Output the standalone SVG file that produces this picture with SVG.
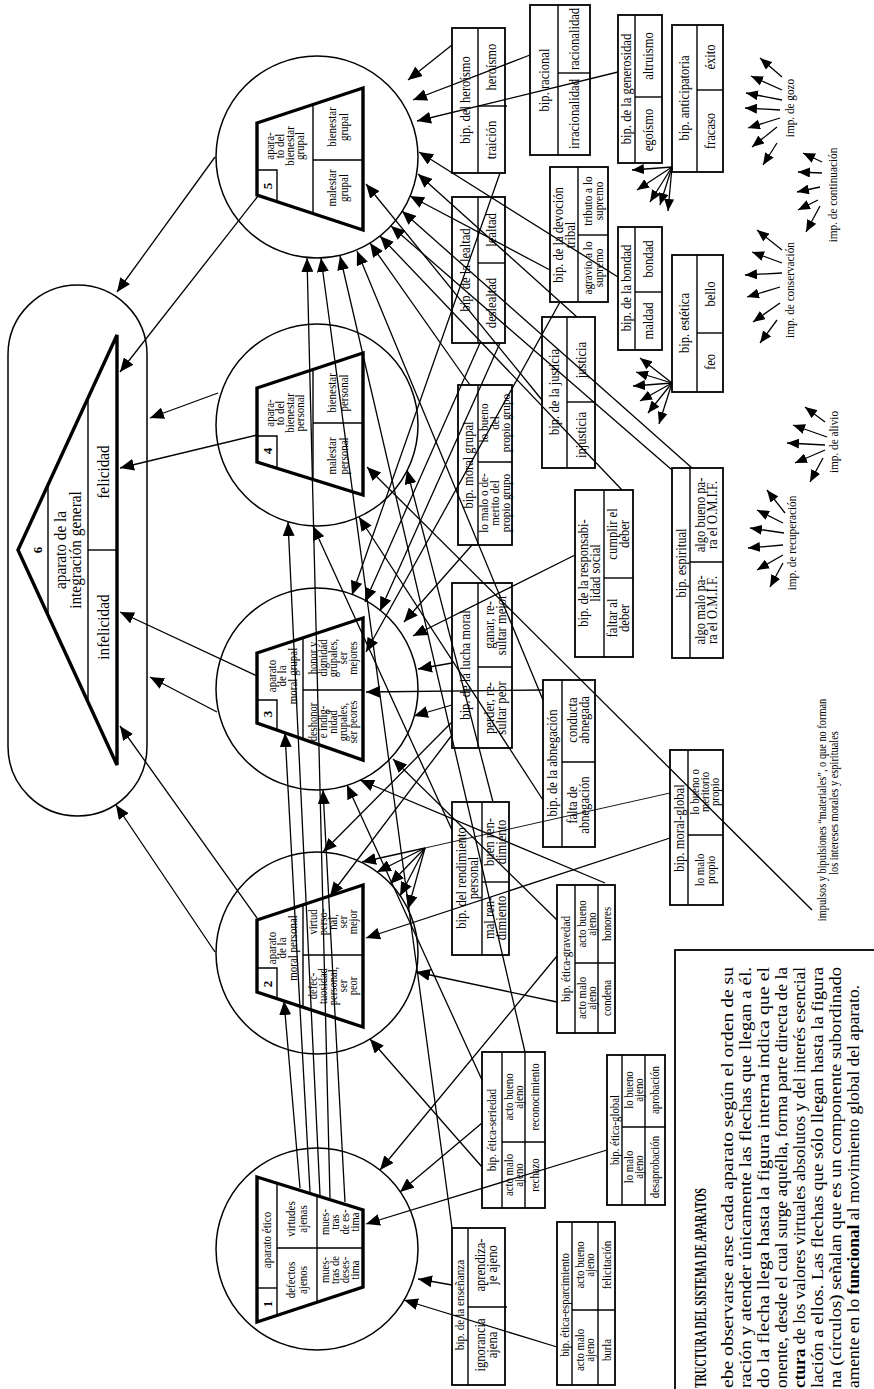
<svg xmlns="http://www.w3.org/2000/svg" width="874" height="1389" viewBox="0 0 874 1389">
<defs>
<marker id="a" viewBox="0 0 14 12" refX="14" refY="6" markerWidth="14" markerHeight="12" markerUnits="userSpaceOnUse" orient="auto"><path d="M0,0L14,6L0,12z" fill="#000"/></marker>
<marker id="f" viewBox="0 0 12 10" refX="12" refY="5" markerWidth="12" markerHeight="10" markerUnits="userSpaceOnUse" orient="auto"><path d="M0,0L12,5L0,10z" fill="#000"/></marker>
<style>
text{font-family:"Liberation Serif","Times New Roman",serif;font-size:14px;text-anchor:middle;dominant-baseline:central;fill:#000}
.s{font-size:12px}
.m{font-size:12.5px}
.big{font-size:17px}
.num{font-size:13px;font-weight:bold}
.body{font-size:17px;text-anchor:start}
.hd{font-size:17px;font-weight:bold;text-anchor:start}
.note{font-size:11.5px}
.c{fill:none;stroke:#000;stroke-width:1.5}
.tz{fill:none;stroke:#000;stroke-width:3.4;stroke-linejoin:miter}
.ln{stroke:#000;stroke-width:1.4;fill:none}
.bx{fill:none;stroke:#000;stroke-width:1.8}
.cn line{stroke:#000;stroke-width:1.3;marker-end:url(#a)}
.fan line{stroke:#000;stroke-width:1.3;marker-end:url(#f)}
.thin{stroke:#000;stroke-width:0.9}
</style>
</defs>
<rect width="874" height="1389" fill="#fff"/>

<g id="app6">
<rect x="8" y="285" width="139" height="531" rx="69.5" class="c"/>
<polygon points="18,550 117,335 117,765" class="tz"/>
<line x1="48" y1="486" x2="48" y2="614" class="ln"/>
<line x1="88" y1="398" x2="88" y2="702" class="ln"/>
<line x1="88" y1="550" x2="117" y2="550" class="ln"/>
<text class="num" transform="translate(37,550) rotate(-90)">6</text>
<text class="big" transform="translate(67,550) rotate(-90) scale(0.9,1)"><tspan x="0" y="-7.5">aparato de la</tspan><tspan x="0" y="7.5">integración general</tspan></text>
<text class="big" transform="translate(103,472) rotate(-90) scale(0.9,1)">felicidad</text>
<text class="big" transform="translate(103,627) rotate(-90) scale(0.9,1)">infelicidad</text>
</g>

<g id="app5">
<circle cx="317" cy="157" r="101" class="c"/>
<polygon points="257,123 363,88 363,230 257,195" class="tz"/>
<polyline points="257,170 277,170 277,202" class="ln"/>
<line x1="313" y1="105" x2="313" y2="213" class="ln"/>
<line x1="313" y1="160" x2="363" y2="160" class="ln"/>
<text class="num" transform="translate(267,186) rotate(-90)">5</text>
<text class="m" transform="translate(285,146) rotate(-90) scale(0.88,1)"><tspan x="0" y="-15">apara-</tspan><tspan x="0" y="-5">to del</tspan><tspan x="0" y="5">bienestar</tspan><tspan x="0" y="15">grupal</tspan></text>
<text class="m" transform="translate(338,127) rotate(-90) scale(0.88,1)"><tspan x="0" y="-6">bienestar</tspan><tspan x="0" y="6">grupal</tspan></text>
<text class="m" transform="translate(338,188) rotate(-90) scale(0.88,1)"><tspan x="0" y="-6">malestar</tspan><tspan x="0" y="6">grupal</tspan></text>
</g>

<g id="app4">
<circle cx="317" cy="425" r="101" class="c"/>
<polygon points="257,388 363,353 363,495 257,462" class="tz"/>
<polyline points="257,436 277,436 277,468" class="ln"/>
<line x1="313" y1="370" x2="313" y2="480" class="ln"/>
<line x1="313" y1="423" x2="363" y2="423" class="ln"/>
<text class="num" transform="translate(267,451) rotate(-90)">4</text>
<text class="m" transform="translate(285,413) rotate(-90) scale(0.88,1)"><tspan x="0" y="-15">apara-</tspan><tspan x="0" y="-5">to del</tspan><tspan x="0" y="5">bienestar</tspan><tspan x="0" y="15">personal</tspan></text>
<text class="m" transform="translate(338,393) rotate(-90) scale(0.88,1)"><tspan x="0" y="-6">bienestar</tspan><tspan x="0" y="6">personal</tspan></text>
<text class="m" transform="translate(338,456) rotate(-90) scale(0.88,1)"><tspan x="0" y="-6">malestar</tspan><tspan x="0" y="6">personal</tspan></text>
</g>

<g id="app3">
<circle cx="317" cy="689" r="101" class="c"/>
<polygon points="257,653 363,618 363,760 257,723" class="tz"/>
<polyline points="257,700 277,700 277,730" class="ln"/>
<line x1="303" y1="638" x2="303" y2="739" class="ln"/>
<line x1="303" y1="690" x2="363" y2="690" class="ln"/>
<text class="num" transform="translate(267,714) rotate(-90)">3</text>
<text class="m" transform="translate(282,676) rotate(-90) scale(0.88,1)"><tspan x="0" y="-10.5">aparato</tspan><tspan x="0" y="0">de la</tspan><tspan x="0" y="10.5">moral grupal</tspan></text>
<text class="s" transform="translate(333,658) rotate(-90) scale(0.88,1)"><tspan x="0" y="-20">honor y</tspan><tspan x="0" y="-10">dignidad</tspan><tspan x="0" y="0">grupales,</tspan><tspan x="0" y="10">ser</tspan><tspan x="0" y="20">mejores</tspan></text>
<text class="s" transform="translate(333,722) rotate(-90) scale(0.88,1)"><tspan x="0" y="-20">deshonor</tspan><tspan x="0" y="-10">e indig-</tspan><tspan x="0" y="0">nidad</tspan><tspan x="0" y="10">grupales,</tspan><tspan x="0" y="20">ser peores</tspan></text>
</g>

<g id="app2">
<circle cx="317" cy="953" r="101" class="c"/>
<polygon points="257,920 363,885 363,1027 257,992" class="tz"/>
<polyline points="257,968 277,968 277,999" class="ln"/>
<line x1="303" y1="905" x2="303" y2="1007" class="ln"/>
<line x1="303" y1="955" x2="363" y2="955" class="ln"/>
<text class="num" transform="translate(267,984) rotate(-90)">2</text>
<text class="m" transform="translate(282,948) rotate(-90) scale(0.88,1)"><tspan x="0" y="-10.5">aparato</tspan><tspan x="0" y="0">de la</tspan><tspan x="0" y="10.5">moral personal</tspan></text>
<text class="s" transform="translate(333,922) rotate(-90) scale(0.88,1)"><tspan x="0" y="-20">virtud</tspan><tspan x="0" y="-10">perso-</tspan><tspan x="0" y="0">nal,</tspan><tspan x="0" y="10">ser</tspan><tspan x="0" y="20">mejor</tspan></text>
<text class="s" transform="translate(333,986) rotate(-90) scale(0.88,1)"><tspan x="0" y="-20">defec-</tspan><tspan x="0" y="-10">tuosidad</tspan><tspan x="0" y="0">personal,</tspan><tspan x="0" y="10">ser</tspan><tspan x="0" y="20">peor</tspan></text>
</g>

<g id="app1">
<circle cx="317" cy="1249" r="101" class="c"/>
<polygon points="257,1177 363,1210 363,1287 257,1322" class="tz"/>
<line x1="277" y1="1183" x2="277" y2="1315" class="ln"/>
<line x1="257" y1="1288" x2="277" y2="1288" class="ln"/>
<line x1="317" y1="1196" x2="317" y2="1302" class="ln"/>
<line x1="277" y1="1248" x2="363" y2="1248" class="ln"/>
<text class="m" transform="translate(267,1240) rotate(-90) scale(0.88,1)">aparato ético</text>
<text class="num" transform="translate(267,1304) rotate(-90)">1</text>
<text class="m" transform="translate(297,1219) rotate(-90) scale(0.88,1)"><tspan x="0" y="-6">virtudes</tspan><tspan x="0" y="6">ajenas</tspan></text>
<text class="m" transform="translate(297,1280) rotate(-90) scale(0.88,1)"><tspan x="0" y="-6">defectos</tspan><tspan x="0" y="6">ajenos</tspan></text>
<text class="s" transform="translate(340,1222) rotate(-90) scale(0.88,1)"><tspan x="0" y="-15">mues-</tspan><tspan x="0" y="-5">tras</tspan><tspan x="0" y="5">de es-</tspan><tspan x="0" y="15">tima</tspan></text>
<text class="s" transform="translate(340,1270) rotate(-90) scale(0.88,1)"><tspan x="0" y="-15">mues-</tspan><tspan x="0" y="-5">tras de</tspan><tspan x="0" y="5">deses-</tspan><tspan x="0" y="15">tima</tspan></text>
</g>

<g id="bip-racional">
<rect x="530" y="5" width="60" height="150" class="bx"/>
<line x1="558" y1="5" x2="558" y2="155" class="ln"/><line x1="558" y1="73" x2="590" y2="73" class="ln"/>
<text transform="translate(544,80) rotate(-90) scale(0.9,1)">bip. racional</text>
<text transform="translate(574,39) rotate(-90) scale(0.9,1)">racionalidad</text>
<text transform="translate(574,114) rotate(-90) scale(0.9,1)">irracionalidad</text>
</g>
<g id="bip-heroismo">
<rect x="452" y="28" width="53" height="145" class="bx"/>
<line x1="478" y1="28" x2="478" y2="173" class="ln"/><line x1="478" y1="106" x2="507" y2="106" class="ln"/>
<text transform="translate(465,100) rotate(-90) scale(0.9,1)">bip. del heroísmo</text>
<text transform="translate(491,67) rotate(-90) scale(0.9,1)">heroísmo</text>
<text transform="translate(491,140) rotate(-90) scale(0.9,1)">traición</text>
</g>
<g id="bip-generosidad">
<rect x="618" y="15" width="44" height="148" class="bx"/>
<line x1="635" y1="15" x2="635" y2="163" class="ln"/><line x1="635" y1="97" x2="662" y2="97" class="ln"/>
<text transform="translate(626,89) rotate(-90) scale(0.9,1)">bip. de la generosidad</text>
<text transform="translate(648,56) rotate(-90) scale(0.9,1)">altruismo</text>
<text transform="translate(648,130) rotate(-90) scale(0.9,1)">egoísmo</text>
</g>
<g id="bip-anticipatoria">
<rect x="672" y="25" width="51" height="147" class="bx"/>
<line x1="697" y1="25" x2="697" y2="172" class="ln"/><line x1="697" y1="90" x2="723" y2="90" class="ln"/>
<text transform="translate(684,98) rotate(-90) scale(0.9,1)">bip. anticipatoria</text>
<text transform="translate(710,57) rotate(-90) scale(0.9,1)">éxito</text>
<text transform="translate(710,131) rotate(-90) scale(0.9,1)">fracaso</text>
</g>
<g id="bip-lealtad">
<rect x="452" y="197" width="53" height="146" class="bx"/>
<line x1="478" y1="197" x2="478" y2="343" class="ln"/><line x1="478" y1="263" x2="505" y2="263" class="ln"/>
<text transform="translate(465,270) rotate(-90) scale(0.9,1)">bip. de la lealtad</text>
<text transform="translate(491,230) rotate(-90) scale(0.9,1)">lealtad</text>
<text transform="translate(491,303) rotate(-90) scale(0.9,1)">deslealtad</text>
</g>
<g id="bip-devocion">
<rect x="550" y="167" width="58" height="135" class="bx"/>
<line x1="578" y1="167" x2="578" y2="302" class="ln"/><line x1="578" y1="235" x2="608" y2="235" class="ln"/>
<text transform="translate(564,235) rotate(-90) scale(0.9,1)"><tspan x="0" y="-6">bip. de la devoción</tspan><tspan x="0" y="6">tribal</tspan></text>
<text class="m" transform="translate(593,201) rotate(-90) scale(0.9,1)"><tspan x="0" y="-5.5">tributo a lo</tspan><tspan x="0" y="5.5">supremo</tspan></text>
<text class="m" transform="translate(593,268) rotate(-90) scale(0.9,1)"><tspan x="0" y="-5.5">agravio a lo</tspan><tspan x="0" y="5.5">supremo</tspan></text>
</g>
<g id="bip-bondad">
<rect x="618" y="227" width="44" height="123" class="bx"/>
<line x1="635" y1="227" x2="635" y2="350" class="ln"/><line x1="635" y1="292" x2="662" y2="292" class="ln"/>
<text transform="translate(626,288) rotate(-90) scale(0.9,1)">bip. de la bondad</text>
<text transform="translate(648,259) rotate(-90) scale(0.9,1)">bondad</text>
<text transform="translate(648,321) rotate(-90) scale(0.9,1)">maldad</text>
</g>
<g id="bip-estetica">
<rect x="672" y="255" width="51" height="137" class="bx"/>
<line x1="697" y1="255" x2="697" y2="392" class="ln"/><line x1="697" y1="333" x2="723" y2="333" class="ln"/>
<text transform="translate(684,323) rotate(-90) scale(0.9,1)">bip. estética</text>
<text transform="translate(710,294) rotate(-90) scale(0.9,1)">bello</text>
<text transform="translate(710,362) rotate(-90) scale(0.9,1)">feo</text>
</g>
<g id="bip-justicia">
<rect x="542" y="317" width="53" height="151" class="bx"/>
<line x1="567" y1="317" x2="567" y2="468" class="ln"/><line x1="567" y1="402" x2="595" y2="402" class="ln"/>
<text transform="translate(554,392) rotate(-90) scale(0.9,1)">bip. de la justicia</text>
<text transform="translate(581,360) rotate(-90) scale(0.9,1)">justicia</text>
<text transform="translate(581,435) rotate(-90) scale(0.9,1)">injusticia</text>
</g>
<g id="bip-moralgrupal">
<rect x="458" y="385" width="54" height="160" class="bx"/>
<line x1="478" y1="385" x2="478" y2="545" class="ln"/><line x1="478" y1="462" x2="512" y2="462" class="ln"/>
<text transform="translate(468,465) rotate(-90) scale(0.9,1)">bip. moral grupal</text>
<text class="m" transform="translate(495,423) rotate(-90) scale(0.9,1)"><tspan x="0" y="-11">lo bueno</tspan><tspan x="0" y="0">del</tspan><tspan x="0" y="11">propio grupo</tspan></text>
<text class="m" transform="translate(495,503) rotate(-90) scale(0.9,1)"><tspan x="0" y="-11">lo malo o de-</tspan><tspan x="0" y="0">merito del</tspan><tspan x="0" y="11">propio grupo</tspan></text>
</g>
<g id="bip-responsabilidad">
<rect x="575" y="490" width="58" height="167" class="bx"/>
<line x1="604" y1="490" x2="604" y2="657" class="ln"/><line x1="604" y1="578" x2="633" y2="578" class="ln"/>
<text transform="translate(589,573) rotate(-90) scale(0.9,1)"><tspan x="0" y="-6">bip. de la responsabi-</tspan><tspan x="0" y="6">lidad social</tspan></text>
<text transform="translate(618,534) rotate(-90) scale(0.9,1)"><tspan x="0" y="-6">cumplir el</tspan><tspan x="0" y="6">deber</tspan></text>
<text transform="translate(618,618) rotate(-90) scale(0.9,1)"><tspan x="0" y="-6">faltar al</tspan><tspan x="0" y="6">deber</tspan></text>
</g>
<g id="bip-espiritual">
<rect x="672" y="468" width="51" height="190" class="bx"/>
<line x1="690" y1="468" x2="690" y2="658" class="ln"/><line x1="690" y1="562" x2="723" y2="562" class="ln"/>
<text transform="translate(681,563) rotate(-90) scale(0.9,1)">bip. espiritual</text>
<text transform="translate(706,515) rotate(-90) scale(0.9,1)"><tspan x="0" y="-6">algo bueno pa-</tspan><tspan x="0" y="6">ra el O.M.I.F.</tspan></text>
<text transform="translate(706,610) rotate(-90) scale(0.9,1)"><tspan x="0" y="-6">algo malo pa-</tspan><tspan x="0" y="6">ra el O.M.I.F.</tspan></text>
</g>
<g id="bip-luchamoral">
<rect x="452" y="583" width="60" height="165" class="bx"/>
<line x1="478" y1="583" x2="478" y2="748" class="ln"/><line x1="478" y1="667" x2="512" y2="667" class="ln"/>
<text transform="translate(465,665) rotate(-90) scale(0.9,1)">bip. de la lucha moral</text>
<text transform="translate(495,625) rotate(-90) scale(0.9,1)"><tspan x="0" y="-6">ganar, re-</tspan><tspan x="0" y="6">sultar mejor</tspan></text>
<text transform="translate(495,708) rotate(-90) scale(0.9,1)"><tspan x="0" y="-6">perder, re-</tspan><tspan x="0" y="6">sultar peor</tspan></text>
</g>
<g id="bip-abnegacion">
<rect x="543" y="680" width="52" height="167" class="bx"/>
<line x1="562" y1="680" x2="562" y2="847" class="ln"/><line x1="562" y1="762" x2="595" y2="762" class="ln"/>
<text transform="translate(552,763) rotate(-90) scale(0.9,1)">bip. de la abnegación</text>
<text transform="translate(578,720) rotate(-90) scale(0.9,1)"><tspan x="0" y="-6">conducta</tspan><tspan x="0" y="6">abnegada</tspan></text>
<text transform="translate(578,805) rotate(-90) scale(0.9,1)"><tspan x="0" y="-6">falta de</tspan><tspan x="0" y="6">abnegación</tspan></text>
</g>
<g id="bip-rendimiento">
<rect x="452" y="802" width="57" height="153" class="bx"/>
<line x1="482" y1="802" x2="482" y2="955" class="ln"/><line x1="482" y1="882" x2="509" y2="882" class="ln"/>
<text transform="translate(467,878) rotate(-90) scale(0.9,1)"><tspan x="0" y="-6">bip. del rendimiento</tspan><tspan x="0" y="6">personal</tspan></text>
<text transform="translate(495,842) rotate(-90) scale(0.9,1)"><tspan x="0" y="-6">buen ren-</tspan><tspan x="0" y="6">dimiento</tspan></text>
<text transform="translate(495,918) rotate(-90) scale(0.9,1)"><tspan x="0" y="-6">mal ren-</tspan><tspan x="0" y="6">dimiento</tspan></text>
</g>
<g id="bip-moralglobal">
<rect x="670" y="750" width="53" height="155" class="bx"/>
<line x1="688" y1="750" x2="688" y2="905" class="ln"/><line x1="688" y1="835" x2="723" y2="835" class="ln"/>
<text transform="translate(679,828) rotate(-90) scale(0.9,1)">bip. moral-global</text>
<text class="s" transform="translate(705,792) rotate(-90) scale(0.9,1)"><tspan x="0" y="-10">lo bueno o</tspan><tspan x="0" y="0">meritorio</tspan><tspan x="0" y="10">propio</tspan></text>
<text class="s" transform="translate(705,870) rotate(-90) scale(0.9,1)"><tspan x="0" y="-5.5">lo malo</tspan><tspan x="0" y="5.5">propio</tspan></text>
</g>
<g id="bip-gravedad">
<rect x="557" y="885" width="58" height="148" class="bx"/>
<line x1="575" y1="885" x2="575" y2="1033" class="ln"/><line x1="598" y1="885" x2="598" y2="1033" class="ln"/><line x1="575" y1="963" x2="615" y2="963" class="ln"/>
<text class="m" transform="translate(566,959) rotate(-90) scale(0.9,1)">bip. ética-gravedad</text>
<text class="s" transform="translate(586.5,924) rotate(-90) scale(0.9,1)"><tspan x="0" y="-5">acto bueno</tspan><tspan x="0" y="5">ajeno</tspan></text>
<text class="s" transform="translate(586.5,998) rotate(-90) scale(0.9,1)"><tspan x="0" y="-5">acto malo</tspan><tspan x="0" y="5">ajeno</tspan></text>
<text class="s" transform="translate(606.5,924) rotate(-90) scale(0.9,1)">honores</text>
<text class="s" transform="translate(606.5,998) rotate(-90) scale(0.9,1)">condena</text>
</g>
<g id="bip-seriedad">
<rect x="482" y="1052" width="63" height="156" class="bx"/>
<line x1="502" y1="1052" x2="502" y2="1208" class="ln"/><line x1="525" y1="1052" x2="525" y2="1208" class="ln"/><line x1="502" y1="1142" x2="545" y2="1142" class="ln"/>
<text class="m" transform="translate(492,1130) rotate(-90) scale(0.9,1)">bip. ética-seriedad</text>
<text class="s" transform="translate(513.5,1097) rotate(-90) scale(0.9,1)"><tspan x="0" y="-5">acto bueno</tspan><tspan x="0" y="5">ajeno</tspan></text>
<text class="s" transform="translate(513.5,1175) rotate(-90) scale(0.9,1)"><tspan x="0" y="-5">acto malo</tspan><tspan x="0" y="5">ajeno</tspan></text>
<text class="s" transform="translate(535,1097) rotate(-90) scale(0.9,1)">reconocimiento</text>
<text class="s" transform="translate(535,1175) rotate(-90) scale(0.9,1)">rechazo</text>
</g>
<g id="bip-eticaglobal">
<rect x="607" y="1055" width="58" height="150" class="bx"/>
<line x1="622" y1="1055" x2="622" y2="1205" class="ln"/><line x1="645" y1="1055" x2="645" y2="1205" class="ln"/><line x1="622" y1="1127" x2="665" y2="1127" class="ln"/>
<text class="s" transform="translate(614.5,1130) rotate(-90) scale(0.9,1)">bip. ética-global</text>
<text class="s" transform="translate(633.5,1090) rotate(-90) scale(0.9,1)"><tspan x="0" y="-5">lo bueno</tspan><tspan x="0" y="5">ajeno</tspan></text>
<text class="s" transform="translate(633.5,1167) rotate(-90) scale(0.9,1)"><tspan x="0" y="-5">lo malo</tspan><tspan x="0" y="5">ajeno</tspan></text>
<text class="s" transform="translate(655,1090) rotate(-90) scale(0.9,1)">aprobación</text>
<text class="s" transform="translate(655,1167) rotate(-90) scale(0.9,1)">desaprobación</text>
</g>
<g id="bip-ensenanza">
<rect x="452" y="1228" width="53" height="157" class="bx"/>
<line x1="468" y1="1228" x2="468" y2="1385" class="ln"/><line x1="468" y1="1307" x2="507" y2="1307" class="ln"/>
<text class="m" transform="translate(460,1305) rotate(-90) scale(0.9,1)">bip. de la enseñanza</text>
<text transform="translate(486,1265) rotate(-90) scale(0.9,1)"><tspan x="0" y="-6">aprendiza-</tspan><tspan x="0" y="6">je ajeno</tspan></text>
<text transform="translate(486,1345) rotate(-90) scale(0.9,1)"><tspan x="0" y="-6">ignorancia</tspan><tspan x="0" y="6">ajena</tspan></text>
</g>
<g id="bip-esparcimiento">
<rect x="557" y="1222" width="58" height="163" class="bx"/>
<line x1="572" y1="1222" x2="572" y2="1385" class="ln"/><line x1="598" y1="1222" x2="598" y2="1385" class="ln"/><line x1="572" y1="1310" x2="615" y2="1310" class="ln"/>
<text class="s" transform="translate(564.5,1305) rotate(-90) scale(0.9,1)">bip. ética-esparcimiento</text>
<text class="s" transform="translate(585,1265) rotate(-90) scale(0.9,1)"><tspan x="0" y="-5">acto bueno</tspan><tspan x="0" y="5">ajeno</tspan></text>
<text class="s" transform="translate(585,1350) rotate(-90) scale(0.9,1)"><tspan x="0" y="-5">acto malo</tspan><tspan x="0" y="5">ajeno</tspan></text>
<text class="s" transform="translate(606.5,1265) rotate(-90) scale(0.9,1)">felicitación</text>
<text class="s" transform="translate(606.5,1350) rotate(-90) scale(0.9,1)">burla</text>
</g>

<g id="imp-labels">
<text class="m" transform="translate(790,108) rotate(-90) scale(0.9,1)">imp. de gozo</text>
<text class="m" transform="translate(833,195) rotate(-90) scale(0.9,1)">imp. de continuación</text>
<text class="m" transform="translate(790,290) rotate(-90) scale(0.9,1)">imp. de conservación</text>
<text class="m" transform="translate(792,543) rotate(-90) scale(0.9,1)">imp. de recuperación</text>
<text class="m" transform="translate(834,442) rotate(-90) scale(0.9,1)">imp. de alivio</text>
<text class="note" transform="translate(822,810) rotate(-90) scale(0.9,1)">impulsos y bipulsiones “materiales”, o que no forman</text>
<text class="note" transform="translate(834,803) rotate(-90) scale(0.9,1)">los intereses morales y espirituales</text>
</g>

<g id="textbox">
<rect x="675" y="950" width="230" height="480" class="bx"/>
<text class="hd" transform="translate(700,1388) rotate(-90)" textLength="200" lengthAdjust="spacingAndGlyphs">TRUCTURA DEL SISTEMA DE APARATOS</text>
<text class="body" transform="translate(727,1388) rotate(-90)" textLength="421" lengthAdjust="spacingAndGlyphs">ebe observarse arse cada aparato según el orden de su</text>
<text class="body" transform="translate(745,1388) rotate(-90)" textLength="421" lengthAdjust="spacingAndGlyphs">ración  y atender únicamente las flechas que llegan a él.</text>
<text class="body" transform="translate(763,1388) rotate(-90)" textLength="421" lengthAdjust="spacingAndGlyphs">do la flecha llega hasta la figura interna indica que el</text>
<text class="body" transform="translate(781,1388) rotate(-90)" textLength="421" lengthAdjust="spacingAndGlyphs">onente, desde el cual surge aquélla, forma parte directa de la</text>
<text class="body" transform="translate(799,1388) rotate(-90)" textLength="421" lengthAdjust="spacingAndGlyphs"><tspan font-weight="bold">ctura</tspan> de los valores virtuales absolutos y del interés esencial</text>
<text class="body" transform="translate(817,1388) rotate(-90)" textLength="421" lengthAdjust="spacingAndGlyphs">lación a ellos. Las flechas que sólo llegan hasta la figura</text>
<text class="body" transform="translate(835,1388) rotate(-90)" textLength="421" lengthAdjust="spacingAndGlyphs">na (círculos) señalan que es un componente subordinado</text>
<text class="body" transform="translate(853,1388) rotate(-90)" textLength="403" lengthAdjust="spacingAndGlyphs">amente en lo <tspan font-weight="bold">funcional</tspan> al movimiento global del aparato.</text>
</g>

<g id="connectors">
<g class="cn">
<line x1="215" y1="157" x2="117" y2="292"/>
<line x1="258" y1="196" x2="120" y2="372"/>
<line x1="218" y1="393" x2="150" y2="418"/>
<line x1="257" y1="435" x2="120" y2="468"/>
<line x1="257" y1="676" x2="120" y2="612"/>
<line x1="217" y1="712" x2="150" y2="677"/>
<line x1="257" y1="918" x2="120" y2="726"/>
<line x1="215" y1="952" x2="116" y2="805"/>

<line x1="452" y1="45" x2="408" y2="80"/>
<line x1="530" y1="55" x2="413" y2="100"/>
<line x1="618" y1="72" x2="417" y2="121"/>
<line x1="618" y1="277" x2="419" y2="152"/>
<line x1="577" y1="317" x2="418" y2="174"/>
<line x1="550" y1="270" x2="410" y2="196"/>
<line x1="692" y1="468" x2="402" y2="211"/>
<line x1="672" y1="470" x2="391" y2="226"/>
<line x1="622" y1="490" x2="380" y2="236"/>
<line x1="470" y1="385" x2="370" y2="243"/>
<line x1="543" y1="700" x2="357" y2="251"/>
<line x1="525" y1="1052" x2="340" y2="256"/>
<line x1="452" y1="1228" x2="321" y2="258"/>
<line x1="330" y1="1198" x2="307" y2="258"/>
<line x1="542" y1="400" x2="366" y2="184"/>

<line x1="812" y1="910" x2="367" y2="467"/>
<line x1="320" y1="1195" x2="288" y2="522"/>
<line x1="543" y1="800" x2="359" y2="517"/>
<line x1="452" y1="830" x2="313" y2="526"/>
<line x1="493" y1="802" x2="407" y2="470"/>

<line x1="500" y1="173" x2="352" y2="595"/>
<line x1="480" y1="343" x2="365" y2="602"/>
<line x1="500" y1="343" x2="380" y2="611"/>
<line x1="472" y1="545" x2="404" y2="622"/>
<line x1="575" y1="555" x2="413" y2="636"/>
<line x1="452" y1="663" x2="418" y2="669"/>
<line x1="560" y1="302" x2="366" y2="652"/>
<line x1="543" y1="690" x2="366" y2="692"/>
<line x1="452" y1="705" x2="414" y2="716"/>
<line x1="310" y1="1192" x2="285" y2="733"/>
<line x1="557" y1="920" x2="393" y2="759"/>
<line x1="605" y1="883" x2="360" y2="780"/>
<line x1="482" y1="1080" x2="347" y2="785"/>
<line x1="345" y1="1202" x2="323" y2="790"/>

<line x1="452" y1="722" x2="323" y2="852"/>
<line x1="452" y1="735" x2="330" y2="896"/>
<line x1="670" y1="838" x2="366" y2="938"/>
<line x1="557" y1="1002" x2="416" y2="972"/>
<line x1="482" y1="1167" x2="370" y2="1039"/>
<line x1="300" y1="1188" x2="284" y2="1001"/>
<line x1="425" y1="848" x2="362" y2="862"/>
<line x1="425" y1="848" x2="377" y2="872"/>
<line x1="425" y1="848" x2="390" y2="884"/>
<line x1="425" y1="848" x2="400" y2="896"/>
<line x1="425" y1="848" x2="408" y2="909"/>

<line x1="557" y1="956" x2="380" y2="1170"/>
<line x1="482" y1="1123" x2="400" y2="1192"/>
<line x1="607" y1="1150" x2="366" y2="1224"/>
<line x1="452" y1="1285" x2="418" y2="1279"/>
<line x1="557" y1="1347" x2="404" y2="1300"/>
</g>
<line x1="670" y1="793" x2="425" y2="848" class="thin"/>
<g class="fan">
<line x1="672" y1="167" x2="632" y2="170"/>
<line x1="672" y1="167" x2="637" y2="190"/>
<line x1="672" y1="167" x2="650" y2="202"/>
<line x1="672" y1="167" x2="660" y2="205"/>
<line x1="672" y1="167" x2="668" y2="211"/>

<line x1="672" y1="383" x2="640" y2="358"/>
<line x1="672" y1="383" x2="636" y2="372"/>
<line x1="672" y1="383" x2="633" y2="386"/>
<line x1="672" y1="383" x2="640" y2="401"/>
<line x1="672" y1="383" x2="648" y2="413"/>
<line x1="672" y1="383" x2="659" y2="424"/>

<line x1="782" y1="77" x2="760" y2="58"/>
<line x1="782" y1="90" x2="751" y2="76"/>
<line x1="782" y1="100" x2="746" y2="93"/>
<line x1="780" y1="110" x2="745" y2="108"/>
<line x1="780" y1="118" x2="748" y2="128"/>
<line x1="777" y1="127" x2="752" y2="147"/>
<line x1="777" y1="143" x2="763" y2="165"/>

<line x1="822" y1="162" x2="803" y2="153"/>
<line x1="822" y1="173" x2="798" y2="172"/>
<line x1="820" y1="187" x2="797" y2="192"/>
<line x1="818" y1="200" x2="798" y2="210"/>
<line x1="820" y1="206" x2="806" y2="232"/>

<line x1="782" y1="250" x2="757" y2="230"/>
<line x1="782" y1="263" x2="752" y2="252"/>
<line x1="782" y1="273" x2="745" y2="275"/>
<line x1="780" y1="287" x2="747" y2="297"/>
<line x1="780" y1="303" x2="753" y2="322"/>
<line x1="777" y1="320" x2="760" y2="343"/>

<line x1="785" y1="513" x2="767" y2="490"/>
<line x1="783" y1="523" x2="757" y2="510"/>
<line x1="784" y1="533" x2="750" y2="528"/>
<line x1="783" y1="545" x2="748" y2="548"/>
<line x1="783" y1="555" x2="757" y2="570"/>
<line x1="783" y1="563" x2="770" y2="587"/>

<line x1="825" y1="422" x2="805" y2="407"/>
<line x1="827" y1="437" x2="793" y2="425"/>
<line x1="825" y1="445" x2="787" y2="443"/>
<line x1="825" y1="450" x2="795" y2="463"/>
<line x1="823" y1="458" x2="810" y2="482"/>
</g>
</g>
</svg>
